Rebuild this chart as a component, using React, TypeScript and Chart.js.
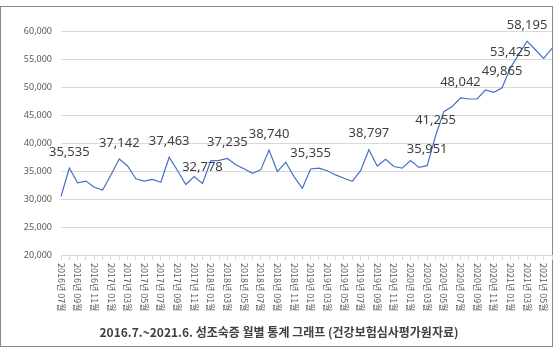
import React, { useEffect, useRef } from "react";
import { Chart, registerables } from "chart.js";

Chart.register(...registerables);

const categories: string[] = [
  "2016년 07월", "2016년 08월", "2016년 09월", "2016년 10월", "2016년 11월", "2016년 12월",
  "2017년 01월", "2017년 02월", "2017년 03월", "2017년 04월", "2017년 05월", "2017년 06월",
  "2017년 07월", "2017년 08월", "2017년 09월", "2017년 10월", "2017년 11월", "2017년 12월",
  "2018년 01월", "2018년 02월", "2018년 03월", "2018년 04월", "2018년 05월", "2018년 06월",
  "2018년 07월", "2018년 08월", "2018년 09월", "2018년 10월", "2018년 11월", "2018년 12월",
  "2019년 01월", "2019년 02월", "2019년 03월", "2019년 04월", "2019년 05월", "2019년 06월",
  "2019년 07월", "2019년 08월", "2019년 09월", "2019년 10월", "2019년 11월", "2019년 12월",
  "2020년 01월", "2020년 02월", "2020년 03월", "2020년 04월", "2020년 05월", "2020년 06월",
  "2020년 07월", "2020년 08월", "2020년 09월", "2020년 10월", "2020년 11월", "2020년 12월",
  "2021년 01월", "2021년 02월", "2021년 03월", "2021년 04월", "2021년 05월", "2021년 06월",
];

const patients: number[] = [
  30450, 35535, 32900, 33200, 32100, 31600,
  34300, 37142, 35900, 33600, 33200, 33500,
  33000, 37463, 35100, 32600, 34000, 32778,
  36800, 36900, 37235, 36100, 35400, 34600,
  35200, 38740, 34900, 36550, 34000, 31900,
  35355, 35500, 35050, 34300, 33700, 33150,
  35050, 38797, 35900, 37100, 35800, 35500,
  36850, 35650, 35951, 41255, 45600, 46500,
  48042, 47860, 47860, 49460, 49050, 49865,
  53425, 55800, 58195, 56650, 55100, 56900,
];

const labeledIndices: number[] = [1, 7, 13, 17, 20, 25, 30, 37, 44, 45, 48, 53, 54, 56];

const yMin = 20000;
const yMax = 60000;
const yStep = 5000;

const titleText = "2016.7.~2021.6. 성조숙증 월별 통계 그래프 (건강보험심사평가원자료)";

export default function App() {
  const ref = useRef<HTMLCanvasElement>(null);

  useEffect(() => {
    if (!ref.current) return;
    const labelPlugin = {
      id: "customLabels",
      afterDatasetsDraw(chart: any) {
        const ctx = chart.ctx;
        const xs = chart.scales.x;
        const ys = chart.scales.y;
        ctx.save();
        ctx.font = "13px 'Noto Sans'";
        ctx.fillStyle = "#404040";
        ctx.textAlign = "center";
        ctx.textBaseline = "middle";
        labeledIndices.forEach((i) => {
          const v = patients[i];
          ctx.fillText(v.toLocaleString("en-US"), xs.getPixelForValue(i), ys.getPixelForValue(v) - 16);
        });
        ctx.font = "9px 'Noto Sans CJK KR'";
        ctx.fillStyle = "#595959";
        ctx.textAlign = "left";
        ctx.textBaseline = "middle";
        categories.forEach((c, i) => {
          if (i % 2 !== 0) return;
          ctx.save();
          ctx.translate(xs.getPixelForValue(i), ys.bottom + 8);
          ctx.rotate(Math.PI / 2);
          ctx.fillText(c, 0, 0);
          ctx.restore();
        });
        ctx.restore();
      },
    };

    const chart = new Chart(ref.current, {
      type: "line",
      data: {
        labels: categories,
        datasets: [
          {
            data: patients,
            borderColor: "#4472C4",
            borderWidth: 1.2,
            pointRadius: 0,
            tension: 0,
            fill: false,
          },
        ],
      },
      options: {
        animation: false,
        responsive: false,
        layout: { padding: { left: 0, right: 2, top: 31, bottom: 0 } },
        plugins: { legend: { display: false }, tooltip: { enabled: false } },
        scales: {
          x: {
            offset: false,
            grid: {
              drawOnChartArea: false,
              drawTicks: true,
              tickLength: 5,
              tickColor: "#d9d9d9",
            },
            border: { color: "#d9d9d9" },
            ticks: { display: false, autoSkip: false },
            afterFit: (s: any) => {
              s.height = 98;
            },
          },
          y: {
            min: yMin,
            max: yMax,
            grid: { color: "#d9d9d9", drawTicks: false },
            border: { display: false },
            ticks: {
              stepSize: yStep,
              padding: 9,
              color: "#595959",
              font: { size: 9, family: "'Noto Sans'" },
              callback: (v: any) => Number(v).toLocaleString("en-US"),
            },
            afterFit: (s: any) => {
              s.width = 61;
            },
          },
        },
      },
      plugins: [labelPlugin],
    });
    return () => chart.destroy();
  }, []);

  return (
    <div style={{ position: "absolute", left: 0, top: 0, width: 554, height: 353, background: "#fff" }}>
      <div
        style={{
          position: "absolute",
          left: 0,
          top: 6,
          width: 551,
          height: 339,
          border: "1.5px solid #8a8a8a",
        }}
      />
      <canvas ref={ref} width={554} height={353} style={{ position: "absolute", left: 0, top: 0 }} />
      <div
        style={{
          position: "absolute",
          left: 0,
          top: 323,
          width: 558,
          textAlign: "center",
          fontFamily: "'Noto Sans CJK KR'",
          fontWeight: "bold",
          fontSize: 12,
          color: "#404040",
          lineHeight: "17px",
          whiteSpace: "nowrap",
        }}
      >
        {titleText}
      </div>
    </div>
  );
}
